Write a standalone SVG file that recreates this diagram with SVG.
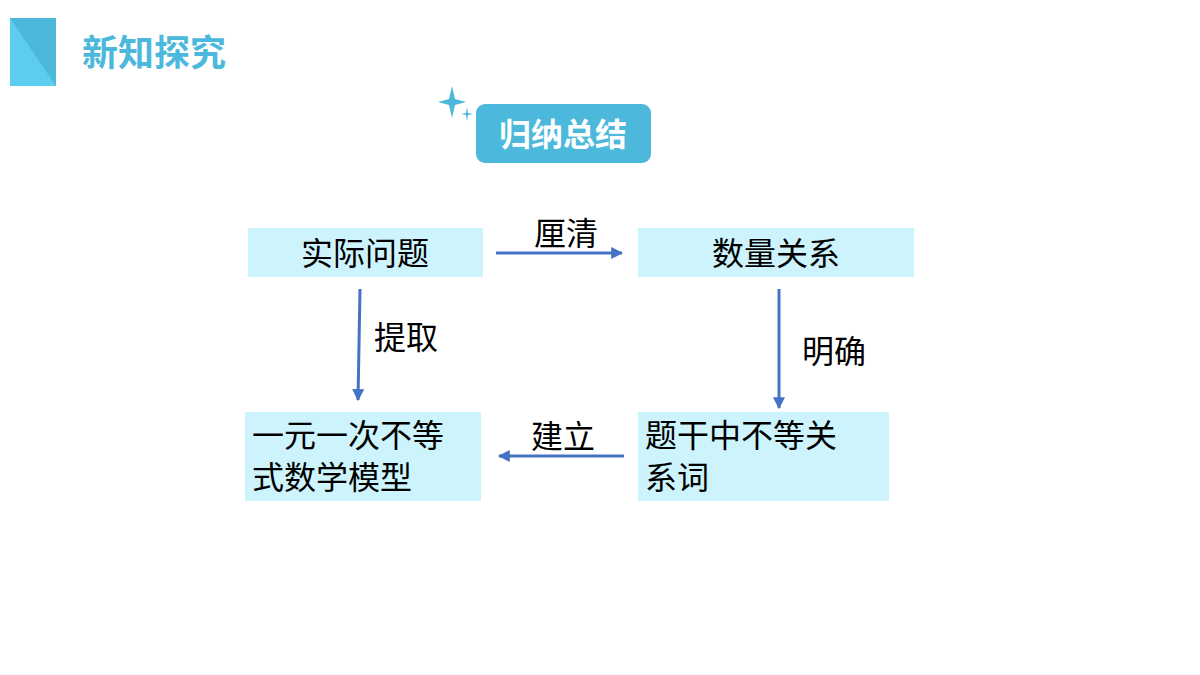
<svg xmlns="http://www.w3.org/2000/svg" width="1200" height="675" viewBox="0 0 1200 675">
<style>
.box{fill:#cdf3fd}
.t{font-family:"Noto Sans CJK SC",sans-serif;font-size:32px;fill:#000}
.c{stroke:#4472c4;stroke-width:3;fill:none;marker-end:url(#a)}
</style>
<defs><marker id="a" viewBox="0 0 10 10" refX="9" refY="5" markerWidth="4" markerHeight="4" orient="auto"><path d="M0,0L10,5L0,10z" fill="#4472c4"/></marker></defs>
<rect width="1200" height="675" fill="#fff"/>
<g id="header">
<rect x="10" y="18" width="46" height="68" fill="#4bb8dc"/>
<polygon points="10,18 56,86 10,86" fill="#5ccdee"/>
<text x="82" y="66" font-family="Noto Sans CJK SC,sans-serif" font-weight="bold" font-size="36" fill="#4bb8dc">新知探究</text>
</g>
<g id="badge">
<path d="M452,86 L455,99 L466,102 L455,105 L452,118 L449,105 L438,102 L449,99Z" fill="#4bb8dc"/>
<path d="M467,107 L468,113 L473,114 L468,115 L467,121 L466,115 L461,114 L466,113Z" fill="#4bb8dc"/>
<rect x="476" y="104" width="175" height="59" rx="9" fill="#4bb8dc"/>
<text x="563" y="146" text-anchor="middle" font-family="Noto Sans CJK SC,sans-serif" font-weight="bold" font-size="32" fill="#fff">归纳总结</text>
</g>
<g id="n1"><rect class="box" x="248" y="228" width="235" height="49"/><text class="t" x="365" y="265" text-anchor="middle">实际问题</text></g>
<g id="n2"><rect class="box" x="638" y="228" width="276" height="49"/><text class="t" x="776" y="265" text-anchor="middle">数量关系</text></g>
<g id="n3"><rect class="box" x="245" y="412" width="236" height="89"/><text class="t" x="252" y="447">一元一次不等</text><text class="t" x="252" y="489">式数学模型</text></g>
<g id="n4"><rect class="box" x="638" y="412" width="251" height="89"/><text class="t" x="645" y="447">题干中不等关</text><text class="t" x="645" y="489">系词</text></g>
<g id="connectors">
<path class="c" d="M496,253 H622"/>
<text class="t" x="566" y="245" text-anchor="middle">厘清</text>
<path class="c" d="M360,289 L358,400"/>
<text class="t" x="374" y="349">提取</text>
<path class="c" d="M779,289 V408"/>
<text class="t" x="802" y="363">明确</text>
<path class="c" d="M624,456 H499"/>
<text class="t" x="563" y="448" text-anchor="middle">建立</text>
</g>
</svg>
